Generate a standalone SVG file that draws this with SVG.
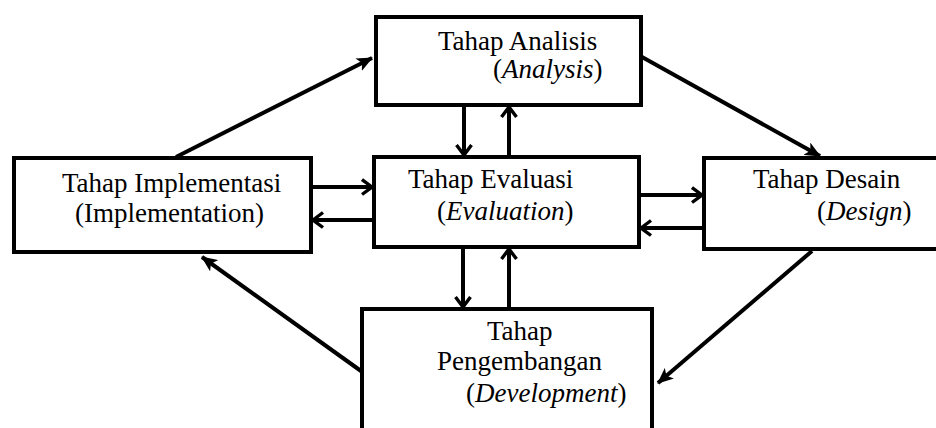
<svg xmlns="http://www.w3.org/2000/svg" width="936" height="428" viewBox="0 0 936 428">
<style>
.box{fill:#fff;stroke:#000;stroke-width:4}
.t{font-family:"Liberation Serif","Times New Roman",serif;font-size:27px;fill:#000}
.i{font-style:italic}
.c{stroke:#000;stroke-width:4;fill:none}
.o{marker-end:url(#open)}
.f{marker-end:url(#solid)}
</style>
<defs>
<marker id="open" viewBox="0 0 13 18" refX="11.5" refY="9" markerWidth="13" markerHeight="18" markerUnits="userSpaceOnUse" orient="auto">
<path d="M1.5,1.5 L11.5,9 L1.5,16.5" fill="none" stroke="#000" stroke-width="3.4" stroke-linejoin="miter"/>
</marker>
<marker id="solid" viewBox="0 0 16 14" refX="15" refY="7" markerWidth="16" markerHeight="14" markerUnits="userSpaceOnUse" orient="auto">
<path d="M0,0 L16,7 L0,14 L4,7 z" fill="#000"/>
</marker>
</defs>
<rect width="936" height="428" fill="#fff"/>
<g id="connectors">
<line class="c f" x1="176" y1="157" x2="372" y2="58"/>
<line class="c f" x1="642" y1="57" x2="820" y2="156"/>
<line class="c f" x1="812" y1="251" x2="658" y2="383"/>
<line class="c f" x1="361" y1="371" x2="202" y2="257"/>
<line class="c o" x1="464" y1="107" x2="464" y2="155"/>
<line class="c o" x1="509" y1="155" x2="509" y2="107"/>
<line class="c o" x1="463" y1="249" x2="463" y2="307"/>
<line class="c o" x1="509" y1="307" x2="509" y2="249"/>
<line class="c o" x1="313" y1="187" x2="372" y2="187"/>
<line class="c o" x1="372" y1="220" x2="313" y2="220"/>
<line class="c o" x1="641" y1="195" x2="702" y2="195"/>
<line class="c o" x1="702" y1="228" x2="641" y2="228"/>
</g>
<g id="analysis">
<rect class="box" x="376" y="17" width="265" height="88"/>
<text class="t" x="438" y="50">Tahap Analisis</text>
<text class="t" x="493" y="78">(<tspan class="i">Analysis</tspan>)</text>
</g>
<g id="implementation">
<rect class="box" x="14" y="158" width="297" height="94"/>
<text class="t" x="62" y="192">Tahap Implementasi</text>
<text class="t" x="75" y="222">(Implementation)</text>
</g>
<g id="evaluation">
<rect class="box" x="374" y="157" width="265" height="90"/>
<text class="t" x="408" y="188">Tahap Evaluasi</text>
<text class="t" x="437" y="220">(<tspan class="i">Evaluation</tspan>)</text>
</g>
<g id="design">
<rect class="box" x="704" y="158" width="240" height="91"/>
<text class="t" x="753" y="188">Tahap Desain</text>
<text class="t" x="817" y="220">(<tspan class="i">Design</tspan>)</text>
</g>
<g id="development">
<rect class="box" x="362" y="309" width="290" height="130"/>
<text class="t" x="487" y="340">Tahap</text>
<text class="t" x="437" y="370">Pengembangan</text>
<text class="t" x="466" y="402">(<tspan class="i">Development</tspan>)</text>
</g>
</svg>
